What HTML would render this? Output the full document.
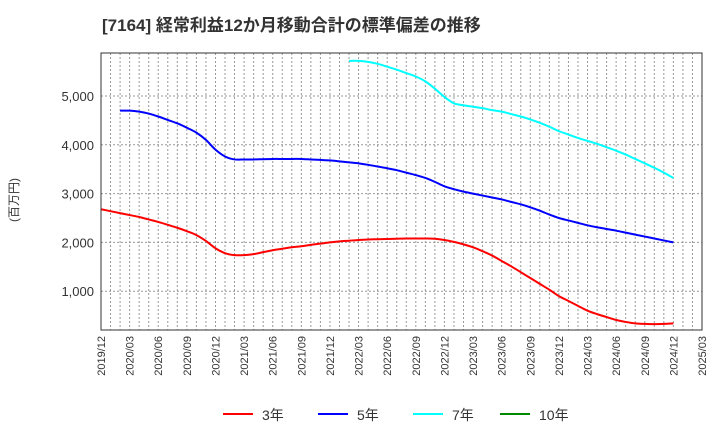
<!DOCTYPE html>
<html><head><meta charset="utf-8"><style>
body{margin:0;background:#fff;font-family:"Liberation Sans","Noto Sans CJK JP",sans-serif}
svg text{font-family:"Liberation Sans","Noto Sans CJK JP",sans-serif}
</style></head><body>
<svg id="c" width="720" height="440">
<text x="102" y="31" font-size="17" font-weight="bold" fill="#333">[7164]  経常利益12か月移動合計の標準偏差の推移</text>
<text transform="translate(18,200) rotate(-90)" text-anchor="middle" font-size="12" fill="#333">(百万円)</text>
<g id="grid"></g><g id="lines"></g><g id="axes"></g>
<g>
<line x1="223" y1="414" x2="253" y2="414" stroke="#f00" stroke-width="2"/><text x="262" y="420" font-size="14" fill="#333">3年</text>
<line x1="318" y1="414" x2="348" y2="414" stroke="#00f" stroke-width="2"/><text x="357" y="420" font-size="14" fill="#333">5年</text>
<line x1="413" y1="414" x2="443" y2="414" stroke="#0ff" stroke-width="2"/><text x="452" y="420" font-size="14" fill="#333">7年</text>
<line x1="500" y1="414" x2="530" y2="414" stroke="#080" stroke-width="2"/><text x="539" y="420" font-size="14" fill="#333">10年</text>
</g>
</svg>
<script>
const yTicks=[1000,2000,3000,4000,5000];
const xLabels=["2019/12","2020/03","2020/06","2020/09","2020/12","2021/03","2021/06","2021/09","2021/12","2022/03","2022/06","2022/09","2022/12","2023/03","2023/06","2023/09","2023/12","2024/03","2024/06","2024/09","2024/12","2025/03"];
// monthly from 2019/12
const s3=[2680,2640,2600,2560,2520,2470,2420,2360,2300,2230,2150,2030,
1880,1780,1740,1740,1760,1800,1840,1870,1900,1920,1950,1975,
2000,2020,2035,2050,2060,2065,2070,2075,2080,2080,2080,2075,
2050,2010,1960,1900,1820,1730,1620,1510,1390,1270,1150,1030,
900,800,700,600,530,470,410,370,340,330,325,330,340];
const s5=[null,null,4700,4700,4680,4640,4580,4510,4440,4350,4250,4100,
3900,3760,3700,3700,3700,3705,3710,3710,3710,3710,3700,3690,
3680,3660,3640,3620,3590,3555,3520,3480,3430,3380,3320,3240,
3150,3090,3040,3000,2960,2920,2880,2830,2780,2720,2650,2570,
2500,2450,2400,2350,2310,2275,2240,2200,2160,2120,2080,2040,2000];
const s7=[null,null,null,null,null,null,null,null,null,null,null,null,
null,null,null,null,null,null,null,null,null,null,null,null,
null,null,5720,5720,5700,5660,5600,5540,5470,5400,5300,5150,
4980,4850,4810,4780,4750,4710,4680,4630,4580,4520,4450,4370,
4280,4210,4140,4080,4020,3950,3880,3800,3710,3620,3530,3430,3320];
const X0=101,X1=702,Y0=53,Y1=330,N=63;
const x=i=>X0+(X1-X0)*i/N;
const y=v=>340-v*0.0488;
const NS="http://www.w3.org/2000/svg";
function mk(t,a,p){const e=document.createElementNS(NS,t);for(const k in a)e.setAttribute(k,a[k]);p.appendChild(e);return e;}
const g=document.getElementById('grid'),ax=document.getElementById('axes'),L=document.getElementById('lines');
for(let i=1;i<N;i++){const l=mk('line',{x1:x(i),x2:x(i),y1:Y0,y2:Y1,stroke:'#999','stroke-dasharray':'2,2','stroke-width':1},g);

}
yTicks.forEach(v=>{const l=mk('line',{x1:X0,x2:X1,y1:y(v),y2:y(v),stroke:'#999','stroke-dasharray':'2,2'},g);


const t=mk('text',{x:94,y:y(v)+5,'text-anchor':'end','font-size':13,fill:'#333'},ax);t.textContent=v.toLocaleString('en-US');

});
const b=mk('rect',{x:X0,y:Y0,width:X1-X0,height:Y1-Y0,fill:'none',stroke:'#333'},ax);


xLabels.forEach((s,k)=>{const t=mk('text',{transform:`translate(${x(k*3)+4},336) rotate(-90)`,'text-anchor':'end','font-size':11,fill:'#333'},ax);t.textContent=s;

});
function path(arr){const p=[];arr.forEach((v,i)=>{if(v!=null)p.push([x(i),y(v)]);});
let d=`M${p[0][0]},${p[0][1]}`;for(let i=0;i<p.length-1;i++){const a=p[i-1]||p[i],b=p[i],c=p[i+1],e=p[i+2]||c;
d+=`C${b[0]+(c[0]-a[0])/6},${b[1]+(c[1]-a[1])/6} ${c[0]-(e[0]-b[0])/6},${c[1]-(e[1]-b[1])/6} ${c[0]},${c[1]}`;}return d;}
[[s3,'#f00','series-3y'],[s5,'#00f','series-5y'],[s7,'#0ff','series-7y']].forEach(([a,c,n])=>{const e=mk('path',{d:path(a),fill:'none',stroke:c,'stroke-width':2},L);

});
</script>
</body></html>
